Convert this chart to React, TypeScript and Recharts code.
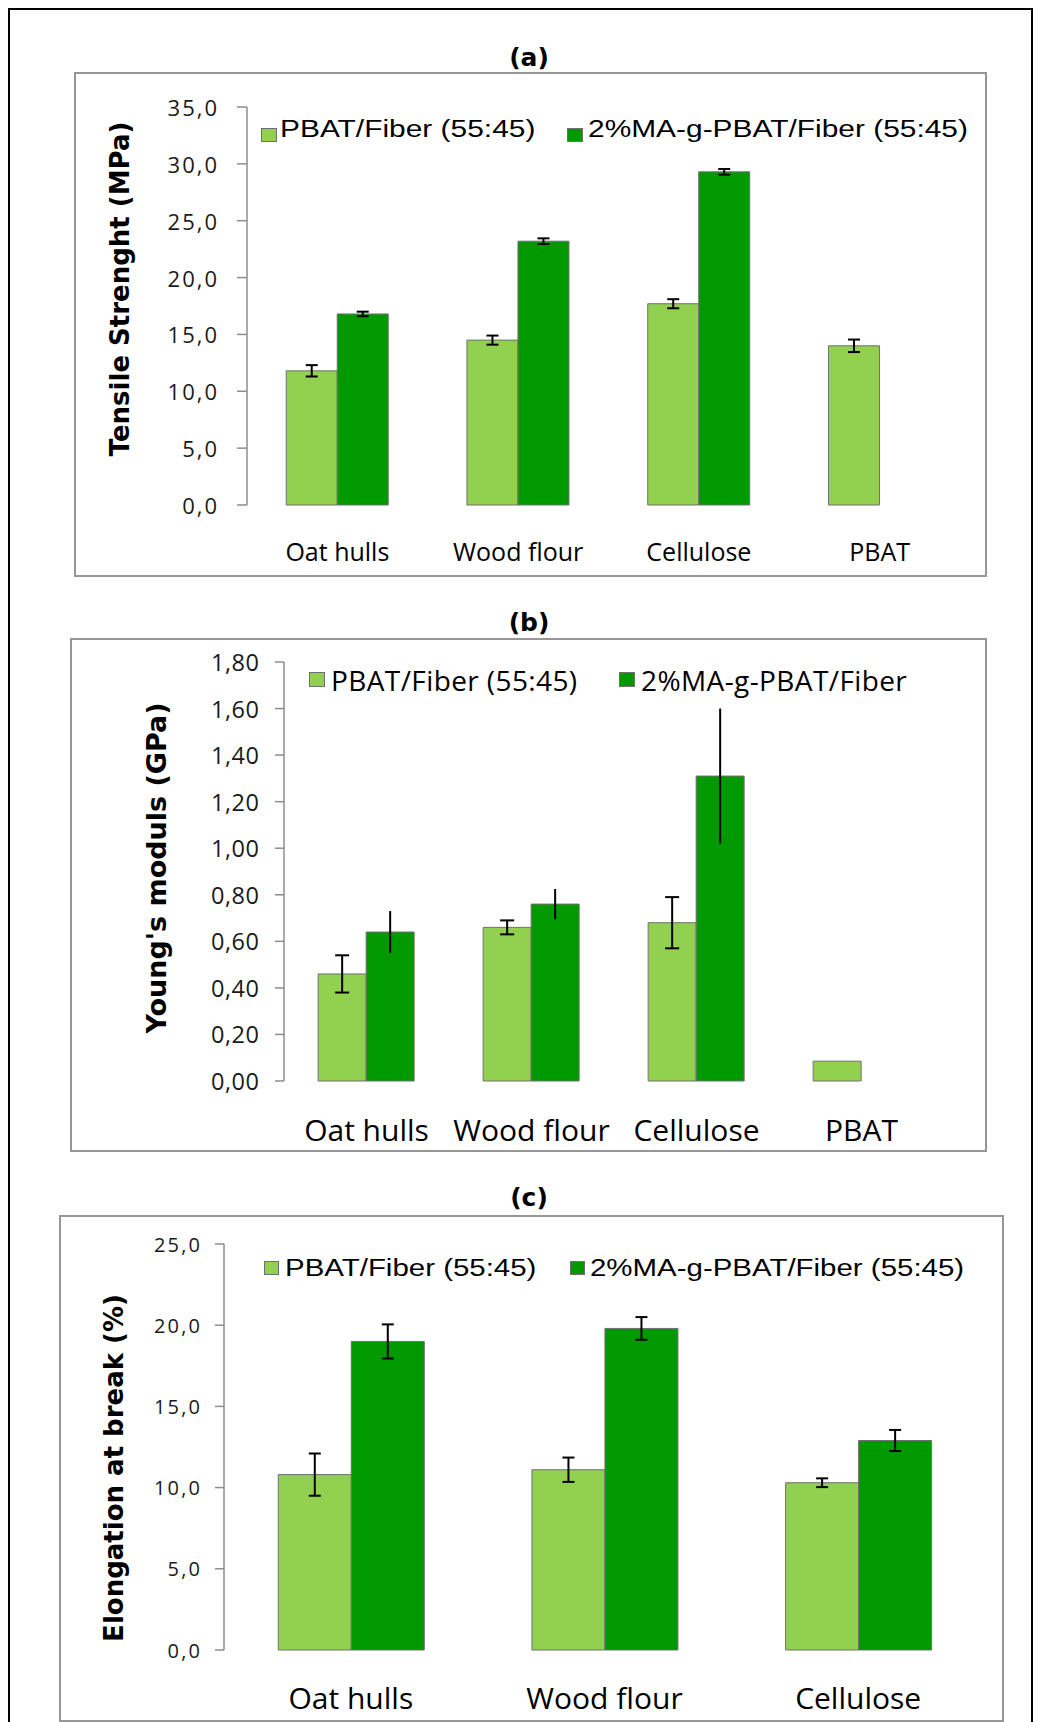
import React from 'react';
import { BarChart, Bar, XAxis, YAxis, ErrorBar, Legend } from 'recharts';

const LIGHT = '#92D050';
const DARK = '#009900';
const EDGE = '#707070';
const AXIS = '#8c8c8c';
const FRAME = '#969696';

// (a) tensile strength
const tensileCategories = ['Oat hulls', 'Wood flour', 'Cellulose', 'PBAT'];
const tensileFiber = [11.8, 14.5, 17.7, 14.0];
const tensileFiberErr = [0.5, 0.4, 0.4, 0.55];
const tensileMa = [16.8, 23.2, 29.3, null];
const tensileMaErr = [0.2, 0.25, 0.25, null];
const tensileTicks = [0, 5, 10, 15, 20, 25, 30, 35];

// (b) young's modulus
const modulusCategories = ['Oat hulls', 'Wood flour', 'Cellulose', 'PBAT'];
const modulusFiber = [0.46, 0.66, 0.68, 0.085];
const modulusFiberErr = [0.08, 0.03, 0.11, null];
const modulusMa = [0.64, 0.76, 1.31, null];
const modulusMaErr = [0.09, 0.065, 0.29, null];
const modulusTicks = [0, 0.2, 0.4, 0.6, 0.8, 1.0, 1.2, 1.4, 1.6, 1.8];

// (c) elongation at break
const elongCategories = ['Oat hulls', 'Wood flour', 'Cellulose'];
const elongFiber = [10.8, 11.1, 10.3];
const elongFiberErr = [1.3, 0.75, 0.27];
const elongMa = [19.0, 19.8, 12.9];
const elongMaErr = [1.05, 0.7, 0.65];
const elongTicks = [0, 5, 10, 15, 20, 25];

const legendFiber = 'PBAT/Fiber (55:45)';
const legendMa = '2%MA-g-PBAT/Fiber (55:45)';
const legendMaShort = '2%MA-g-PBAT/Fiber';

type Num = number | null;

function buildRows(cats: string[], fiber: Num[], fiberErr: Num[], ma: Num[], maErr: Num[]) {
  return cats.map((name, i) => ({
    name,
    fiber: fiber[i],
    fiberErr: fiberErr[i],
    ma: ma[i],
    maErr: maErr[i],
  }));
}

interface LegendSpec {
  squares: [number, number];
  squareTop: number;
  squareW: number;
  squareH: number;
  texts: [number, number];
  textTop: number;
  labels: [string, string];
  font: string;
  fontSize: number;
  scaleX: number;
  spacing: number;
}

interface PanelProps {
  title: string;
  titleTop: number;
  yTitle: string;
  yTitleX: number;
  yTitleY: number;
  yTitleSize: number;
  box: { left: number; top: number; width: number; height: number };
  margin: { top: number; right: number; bottom: number; left: number };
  xHeight: number;
  rows: any[];
  ticks: number[];
  decimals: number;
  tickFont: number;
  tickSpacing: number;
  tickSize: number;
  tickMargin: number;
  catFont: number;
  catMargin: number;
  gap: string;
  fiberCap: number;
  maCap: number;
  legend: LegendSpec;
}

function Panel(p: PanelProps) {
  const n = p.rows.length;
  const bounds = Array.from({ length: n + 1 }, (_, i) => i);
  const fmt = (v: number) => v.toFixed(p.decimals).replace('.', ',');
  const lg = p.legend;

  const renderYTick = (props: any) => {
    const { x, y, payload } = props;
    return (
      <text
        x={x + p.tickSpacing}
        y={y}
        textAnchor="end"
        dominantBaseline="central"
        fontFamily="Open Sans"
        fontSize={p.tickFont}
        letterSpacing={p.tickSpacing}
        fill="#1a1a1a"
      >
        {fmt(payload.value)}
      </text>
    );
  };

  const renderLegend = () => (
    <div style={{ position: 'relative', width: 0, height: 0 }}>
      {[0, 1].map((i) => (
        <React.Fragment key={i}>
          <div
            style={{
              position: 'absolute',
              left: lg.squares[i] - p.box.left,
              top: lg.squareTop - p.box.top,
              width: lg.squareW,
              height: lg.squareH,
              boxSizing: 'border-box',
              background: i === 0 ? LIGHT : DARK,
              border: `1px solid ${EDGE}`,
            }}
          />
          <span
            style={{
              position: 'absolute',
              left: lg.texts[i] - p.box.left,
              top: lg.textTop - p.box.top,
              fontFamily: lg.font,
              fontSize: lg.fontSize,
              lineHeight: 1,
              letterSpacing: lg.spacing,
              whiteSpace: 'nowrap',
              color: '#000',
              transform: `scaleX(${lg.scaleX})`,
              transformOrigin: 'left top',
            }}
          >
            {lg.labels[i]}
          </span>
        </React.Fragment>
      ))}
    </div>
  );

  return (
    <>
      <div
        style={{
          position: 'absolute',
          left: p.box.left,
          top: p.box.top,
          width: p.box.width,
          height: p.box.height,
          border: `2px solid ${FRAME}`,
          boxSizing: 'border-box',
        }}
      />
      <div
        style={{
          position: 'absolute',
          left: 429,
          top: p.titleTop,
          width: 200,
          textAlign: 'center',
          fontFamily: 'DejaVu Sans',
          fontWeight: 'bold',
          fontSize: 25,
          lineHeight: 1,
          color: '#000',
        }}
      >
        {p.title}
      </div>
      <div
        style={{
          position: 'absolute',
          left: p.yTitleX,
          top: p.yTitleY,
          transform: 'translate(-50%, -50%) rotate(-90deg)',
          fontFamily: 'DejaVu Sans',
          fontWeight: 'bold',
          fontSize: p.yTitleSize,
          lineHeight: 1,
          whiteSpace: 'nowrap',
          color: '#000',
        }}
      >
        {p.yTitle}
      </div>
      <div style={{ position: 'absolute', left: p.box.left, top: p.box.top }}>
        <BarChart
          width={p.box.width}
          height={p.box.height}
          data={p.rows}
          margin={p.margin}
          barCategoryGap={p.gap}
          barGap={0}
        >
          <XAxis
            xAxisId="grid"
            type="number"
            domain={[0, n]}
            ticks={bounds}
            allowDataOverflow
            tick={false}
            tickSize={10}
            height={0}
            axisLine={{ stroke: AXIS, strokeWidth: 1.5 }}
            tickLine={{ stroke: AXIS, strokeWidth: 1.5 }}
          />
          <XAxis
            dataKey="name"
            interval={0}
            axisLine={false}
            tickLine={false}
            tickSize={0}
            tickMargin={p.catMargin}
            height={p.xHeight}
            tick={{ fill: '#000', fontSize: p.catFont, fontFamily: 'Open Sans' }}
          />
          <YAxis
            domain={[0, p.ticks[p.ticks.length - 1]]}
            ticks={p.ticks}
            interval={0}
            width={80}
            tickSize={p.tickSize}
            tickMargin={p.tickMargin}
            axisLine={{ stroke: AXIS, strokeWidth: 1.5 }}
            tickLine={{ stroke: AXIS, strokeWidth: 1.5 }}
            tick={renderYTick}
          />
          <Legend
            layout="horizontal"
            verticalAlign="middle"
            align="center"
            content={renderLegend}
            wrapperStyle={{ left: 0, top: 0, width: 0, height: 0 }}
          />
          <Bar dataKey="fiber" fill={LIGHT} stroke={EDGE} strokeWidth={1} isAnimationActive={false}>
            <ErrorBar dataKey="fiberErr" direction="y" width={p.fiberCap} stroke="#000" strokeWidth={2} isAnimationActive={false} />
          </Bar>
          <Bar dataKey="ma" fill={DARK} stroke={EDGE} strokeWidth={1} isAnimationActive={false}>
            <ErrorBar dataKey="maErr" direction="y" width={p.maCap} stroke="#000" strokeWidth={2} isAnimationActive={false} />
          </Bar>
        </BarChart>
      </div>
    </>
  );
}

export default function App() {
  const rowsA = buildRows(tensileCategories, tensileFiber, tensileFiberErr, tensileMa, tensileMaErr);
  const rowsB = buildRows(modulusCategories, modulusFiber, modulusFiberErr, modulusMa, modulusMaErr);
  const rowsC = buildRows(elongCategories, elongFiber, elongFiberErr, elongMa, elongMaErr);

  return (
    <div
      style={{
        position: 'absolute',
        left: 0,
        top: 0,
        width: 1040,
        height: 1722,
        overflow: 'hidden',
        background: '#fff',
      }}
    >
      <div
        style={{
          position: 'absolute',
          left: 8,
          top: 8,
          width: 1025,
          height: 1800,
          border: '2px solid #000',
          boxSizing: 'border-box',
        }}
      />
      <Panel
        title="(a)"
        titleTop={45}
        yTitle="Tensile Strenght (MPa)"
        yTitleX={120}
        yTitleY={289}
        yTitleSize={26}
        box={{ left: 74, top: 72, width: 913, height: 505 }}
        margin={{ top: 35, right: 17, bottom: 0, left: 93 }}
        xHeight={72}
        rows={rowsA}
        ticks={tensileTicks}
        decimals={1}
        tickFont={22}
        tickSpacing={2}
        tickSize={10}
        tickMargin={20}
        catFont={25}
        catMargin={38}
        gap="21.7%"
        fiberCap={6}
        maCap={6}
        legend={{
          squares: [261, 567],
          squareTop: 128,
          squareW: 16,
          squareH: 14,
          texts: [280, 588],
          textTop: 118,
          labels: [legendFiber, legendMa],
          font: 'Liberation Sans',
          fontSize: 23,
          scaleX: 1.3,
          spacing: 0,
        }}
      />
      <Panel
        title="(b)"
        titleTop={610}
        yTitle="Young's moduls (GPa)"
        yTitleX={156}
        yTitleY={868}
        yTitleSize={27}
        box={{ left: 70, top: 638, width: 917, height: 514 }}
        margin={{ top: 24, right: 43, bottom: 0, left: 134 }}
        xHeight={71}
        rows={rowsB}
        ticks={modulusTicks}
        decimals={2}
        tickFont={23.5}
        tickSpacing={0.5}
        tickSize={9}
        tickMargin={16}
        catFont={30}
        catMargin={39}
        gap="20.7%"
        fiberCap={7}
        maCap={0}
        legend={{
          squares: [309, 619],
          squareTop: 672,
          squareW: 16,
          squareH: 15,
          texts: [331, 641],
          textTop: 666,
          labels: [legendFiber, legendMaShort],
          font: 'Open Sans',
          fontSize: 28,
          scaleX: 1,
          spacing: 0.4,
        }}
      />
      <Panel
        title="(c)"
        titleTop={1185}
        yTitle="Elongation at break (%)"
        yTitleX={114}
        yTitleY={1468}
        yTitleSize={26}
        box={{ left: 59, top: 1215, width: 945, height: 507 }}
        margin={{ top: 29, right: 19, bottom: 0, left: 85 }}
        xHeight={72}
        rows={rowsC}
        ticks={elongTicks}
        decimals={1}
        tickFont={20}
        tickSpacing={2.2}
        tickSize={9}
        tickMargin={15}
        catFont={30}
        catMargin={38}
        gap="21.4%"
        fiberCap={6}
        maCap={6}
        legend={{
          squares: [264, 570],
          squareTop: 1261,
          squareW: 15,
          squareH: 14,
          texts: [285, 590],
          textTop: 1257,
          labels: [legendFiber, legendMa],
          font: 'Liberation Sans',
          fontSize: 23,
          scaleX: 1.28,
          spacing: 0,
        }}
      />
    </div>
  );
}
